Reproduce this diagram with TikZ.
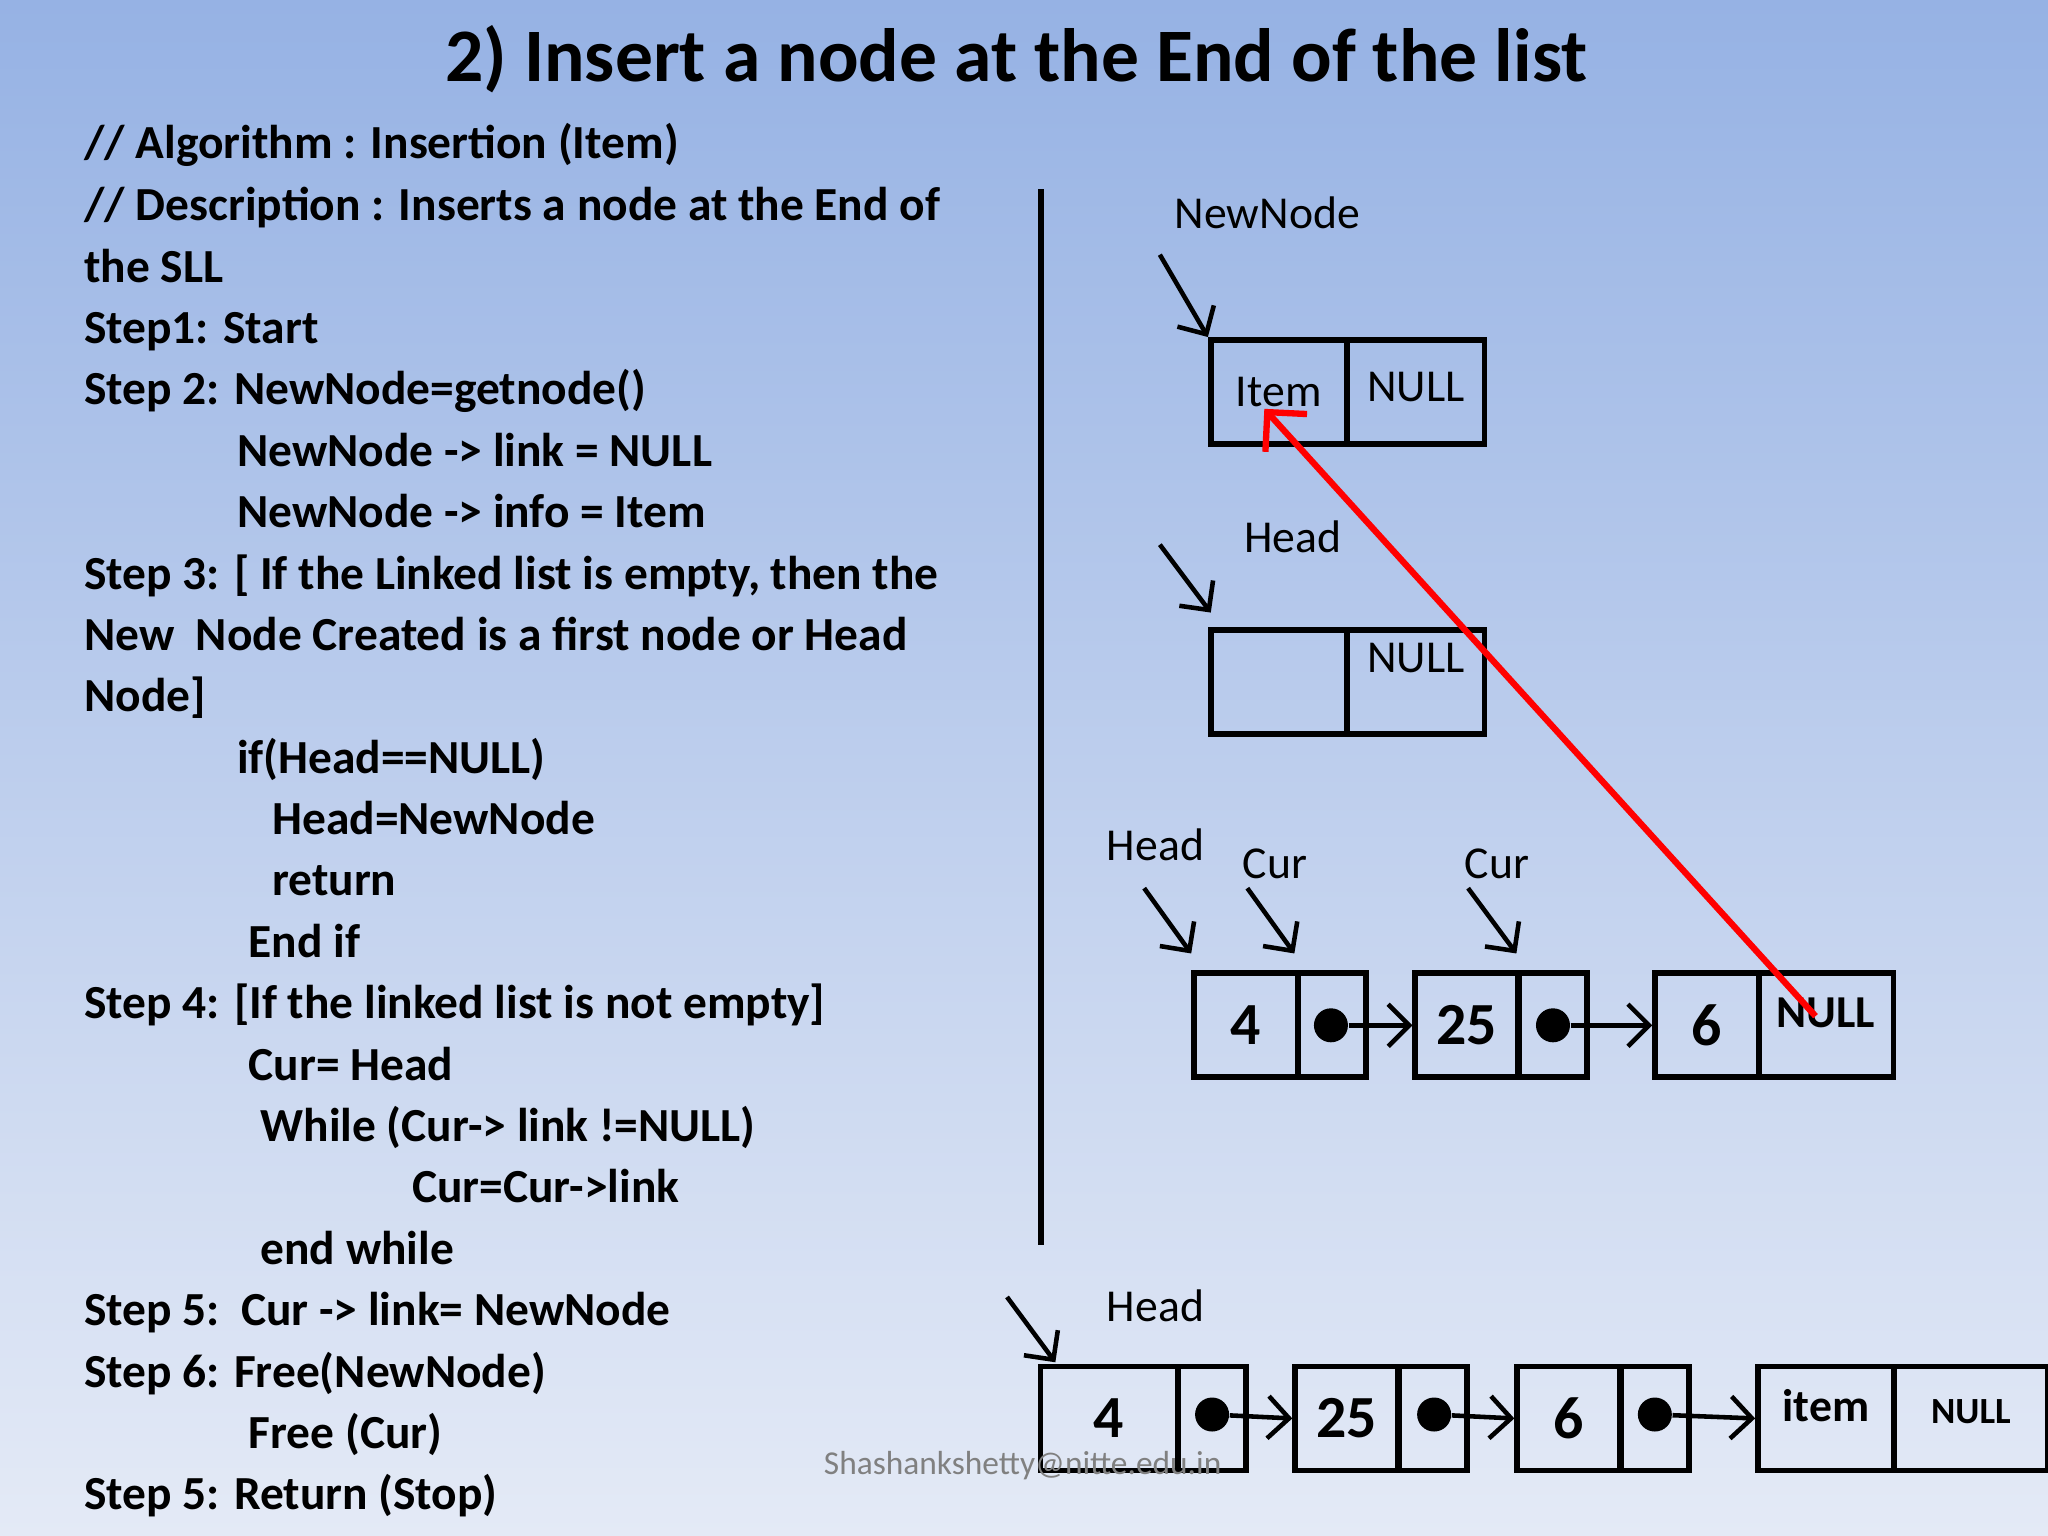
\documentclass[tikz,border=0pt]{standalone}
\usepackage{fontspec}
\setmainfont{Carlito}
\usetikzlibrary{arrows.meta}
\begin{document}
\begin{tikzpicture}[x=0.013061cm,y=-0.013061cm,
 cell/.style={draw,line width=1.6pt,minimum height=1.04cm,inner sep=0pt,font=\fontsize{13}{13}\selectfont},
 big/.style={font=\bfseries\fontsize{17}{17}\selectfont},
 lbl/.style={font=\fontsize{13}{13}\selectfont,anchor=west},
 ptr/.style={-{Straight Barb[length=6pt]},line width=1.3pt},
 dot/.style={circle,fill,inner sep=0pt,minimum size=0.34cm},
 alg/.style={anchor=base west,font=\bfseries\fontsize{13.5}{13.5}\selectfont}]
\shade[top color={rgb,255:red,150;green,178;blue,228},bottom color={rgb,255:red,228;green,234;blue,246}] (0,0) rectangle (1568,1176);
\useasboundingbox (0,0) rectangle (1568,1176);
\node[font=\bfseries\fontsize{21.5}{21.5}\selectfont] (title) at (778,45) {2) Insert a node at the End of the list};
% algorithm
\foreach \t/\x/\y in {{// Algorithm : Insertion (Item)}/55/121,{// Description : Inserts a node at the End of}/55/169,{the SLL}/55/216,{Step1: Start}/55/263,{Step 2: NewNode=getnode()}/55/310,{NewNode -> link = NULL}/172/357,{NewNode -> info = Item}/172/404,{Step 3: [ If the Linked list is empty, then the}/55/451,{New\ \ Node Created is a first node or Head}/55/498,{Node]}/55/545,{if(Head==NULL)}/172/592,{Head=NewNode}/199/639,{return}/199/686,{End if}/181/733,{Step 4: [If the linked list is not empty]}/55/780,{Cur= Head}/181/827,{While (Cur-> link !=NULL)}/190/874,{Cur=Cur->link}/306/921,{end while}/190/968,{Step 5:\ \ Cur -> link= NewNode}/55/1015,{Step 6: Free(NewNode)}/55/1062,{Free (Cur)}/181/1109,{Step 5: Return (Stop)}/55/1156}
 \node[alg] at (\x,\y) {\t};
\draw[line width=1.6pt] (797,145) -- (797,953);
% NewNode
\node[cell,minimum width=1.36cm] (n1) at (979,300) {Item};
\node[cell,minimum width=1.37cm] (n2) at (1084,300) {\raisebox{0.5ex}{NULL}};
\node[lbl] (lnn) at (890,163) {NewNode};
\coordinate (a1) at (888,195); \draw[ptr] (a1) -- (n1.north west);
% Head empty
\node[cell,minimum width=1.36cm] (h1) at (979,522) {};
\node[cell,minimum width=1.37cm] (h2) at (1084,522) {\raisebox{2.2ex}{NULL}};
\node[lbl] (lh) at (943,411) {Head};
\coordinate (a2) at (888,417); \draw[ptr] (a2) -- (927,469);
% row
\node[cell,minimum width=1.04cm,big] (r1) at (954,785) {4};
\node[cell,minimum width=0.68cm] (r1p) at (1020,785) {};
\node[cell,minimum width=1.03cm,big] (r2) at (1123,785) {25};
\node[cell,minimum width=0.68cm] (r2p) at (1189,785) {};
\node[cell,minimum width=1.04cm,big] (r3) at (1307,785) {6};
\node[cell,minimum width=1.35cm] (r3p) at (1398,785) {\raisebox{1.2ex}{\bfseries NULL}};
\node[dot] (d1) at (1019,785) {}; \node[dot] (d2) at (1189,785) {};
\draw[ptr] (d1) -- (r2.west); \draw[ptr] (d2) -- (r3.west);
\node[lbl] (lh2) at (838,647) {Head};
\node[lbl] (lc1) at (942,661) {Cur};
\node[lbl] (lc2) at (1112,661) {Cur};
\coordinate (a3) at (876,680); \draw[ptr] (a3) -- (912,730);
\coordinate (a4) at (955,680); \draw[ptr] (a4) -- (991,730);
\coordinate (a5) at (1124,680); \draw[ptr] (a5) -- (1161,730);
\coordinate (rs) at (1390,778);
\draw[red,line width=1.8pt,-{Straight Barb[length=8pt]}] (rs) -- (968,313);
% bottom row
\node[lbl] (lh3) at (838,1000) {Head};
\node[cell,minimum width=1.37cm,big] (b1) at (849,1086) {4};
\node[cell,minimum width=0.68cm] (b1p) at (928,1086) {};
\node[cell,minimum width=1.03cm,big] (b2) at (1031,1086) {25};
\node[cell,minimum width=0.68cm] (b2p) at (1097,1086) {};
\node[cell,minimum width=1.03cm,big] (b3) at (1201,1086) {6};
\node[cell,minimum width=0.68cm] (b3p) at (1267,1086) {};
\node[cell,minimum width=1.36cm] (b4) at (1398,1086) {\raisebox{1.2ex}{\bfseries item}};
\node[cell,minimum width=1.54cm,font=\bfseries\fontsize{10.5}{10.5}\selectfont] (b4p) at (1509,1086) {\raisebox{0.8ex}{NULL}};
\node[dot] (e1) at (928,1083) {}; \node[dot] (e2) at (1098,1083) {}; \node[dot] (e3) at (1267,1083) {};
\draw[ptr] (e1) -- (b2.west); \draw[ptr] (e2) -- (b3.west); \draw[ptr] (e3) -- (b4.west);
\coordinate (a6) at (771,993); \draw[ptr] (a6) -- (808,1043);
\node[text=gray,font=\fontsize{9.5}{9.5}\selectfont] (wm) at (783,1122) {Shashankshetty@nitte.edu.in};
\end{tikzpicture}
\end{document}
